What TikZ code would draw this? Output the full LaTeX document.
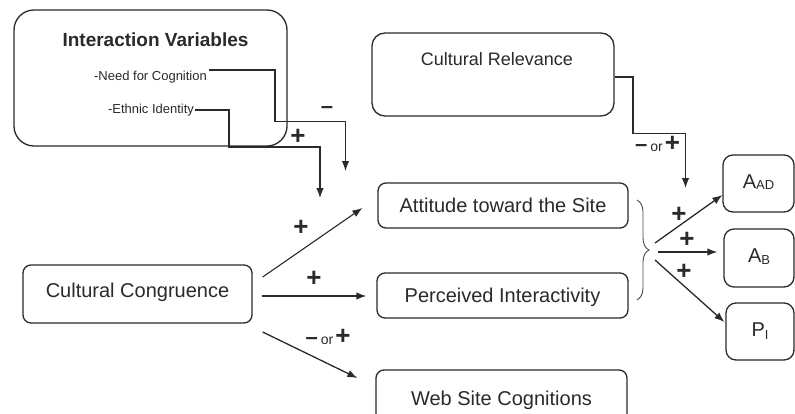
\documentclass[tikz,border=0pt]{standalone}
\usepackage{fontspec}
\setmainfont{Liberation Sans}
\usetikzlibrary{arrows.meta,calc,decorations.pathreplacing}
\definecolor{ink}{HTML}{2A2A2A}
\newcommand{\plussign}{{\bfseries\fontsize{26}{26}\selectfont +}}
\newcommand{\minussign}{{\bfseries\fontsize{22}{22}\selectfont –}}
\newcommand{\orword}{{\fontsize{14}{14}\selectfont or}}
\begin{document}
\begin{tikzpicture}[x=1pt,y=-1pt,
  box/.style={draw=ink,line width=1.3pt,rounded corners=8pt,inner sep=0pt,text=ink,
    font=\fontsize{20}{24}\selectfont,text height=14.5pt,text depth=0pt},
  rbox/.style={box,rounded corners=10pt,text depth=5pt},
  sign/.style={text=ink,inner sep=0pt},
  conn/.style={draw=ink,line width=1.3pt,-{Latex[length=10pt,width=7.5pt]}},
  txt/.style={text=ink,inner sep=0pt,anchor=base}]
\useasboundingbox[fill=white] (0,0) rectangle (795,413);

% Interaction variables
\node[box,rounded corners=20pt,minimum width=273pt,minimum height=136pt] (iv) at (150.5,78) {};
\node[txt,font=\bfseries\fontsize{19}{19}\selectfont] (ivt) at (155.5,46) {Interaction Variables};
\node[txt,font=\fontsize{13}{13}\selectfont] (nfc) at (150.5,80) {-Need for Cognition};
\node[txt,font=\fontsize{13}{13}\selectfont] (eid) at (151,113) {-Ethnic Identity};

% Cultural relevance
\node[box,rounded corners=13pt,minimum width=242pt,minimum height=83pt] (cr) at (493,74.5) {};
\node[txt,font=\fontsize{18}{18}\selectfont] (crt) at (497,65) {Cultural Relevance};

% main boxes
\node[box,minimum width=250pt,minimum height=45pt] (att) at (503,205.5) {Attitude toward the Site};
\node[box,minimum width=251pt,minimum height=45pt] (pi) at (502.5,295.5) {Perceived Interactivity};
\node[box,minimum width=251pt,minimum height=56pt] (wsc) at (501.5,398) {Web Site Cognitions};
\node[box,text depth=8pt,minimum width=229pt,minimum height=58pt] (cc) at (137.5,294) {Cultural Congruence};

% outcome boxes
\node[rbox,minimum width=71pt,minimum height=57pt] (aad) at (758.5,183.5)
  {A\raisebox{-1.5pt}{\fontsize{13}{13}\selectfont AD}};
\node[rbox,minimum width=70pt,minimum height=58pt] (ab) at (759,258)
  {A\raisebox{-2pt}{\fontsize{13}{13}\selectfont B}};
\node[rbox,minimum width=68pt,minimum height=57pt] (pii) at (760,331.5)
  {P\raisebox{-3pt}{\fontsize{13}{13}\selectfont I}};

% interaction connectors
\coordinate (nend) at (345.5,171);
\coordinate (eend) at (320,198);
\draw[conn] ($(nfc.base east)+(2,-10)$) -| (275,121.5) -| (nend);
\draw[conn] ($(eid.base east)+(1,-3)$) -| (229,147) -| (eend);
\node[sign] (s1) at (327,110) {\minussign};
\node[sign] (s2) at (298,137) {\plussign};

% cultural relevance connector
\coordinate (crend) at (685.5,188);
\draw[conn] ($(cr.east)+(0,2.5)$) -| (633,133.5) -| (crend);
\node[sign] (s6) at (657.5,144) {\minussign\hspace{3pt}\orword\hspace{2pt}\plussign};

% cultural congruence connectors
\draw[conn,line width=1.1pt] ($(cc.east)+(10,-17)$) -- ($(att.west)+(-15,2.5)$);
\draw[conn] ($(cc.east)+(9,2)$) -- ($(pi.west)+(-10,0.5)$);
\draw[conn] ($(cc.east)+(10,38)$) -- ($(wsc.west)+(-18,-20)$);
\node[sign] (s3) at (301,228) {\plussign};
\node[sign] (s4) at (314,279) {\plussign};
\node[sign] (s5) at (328,337) {\minussign\hspace{3pt}\orword\hspace{2pt}\plussign};

% brace
\draw[ink!85,line width=0.9pt,decorate,decoration={brace,amplitude=12pt}] (637,200) -- (637,300);
\coordinate (bt) at (650,250);
\draw[conn] ($(bt)+(5,-7)$) -- ($(aad.west)+(0,11.5)$);
\draw[conn] ($(bt)+(8,2)$) -- ($(ab.west)+(-6,-6)$);
\draw[conn] ($(bt)+(5,10)$) -- ($(pii.west)+(-1,-9.5)$);
\node[sign] (s7) at (679,215) {\plussign};
\node[sign] (s8) at (687,240) {\plussign};
\node[sign] (s9) at (684,272) {\plussign};
\end{tikzpicture}
\end{document}
